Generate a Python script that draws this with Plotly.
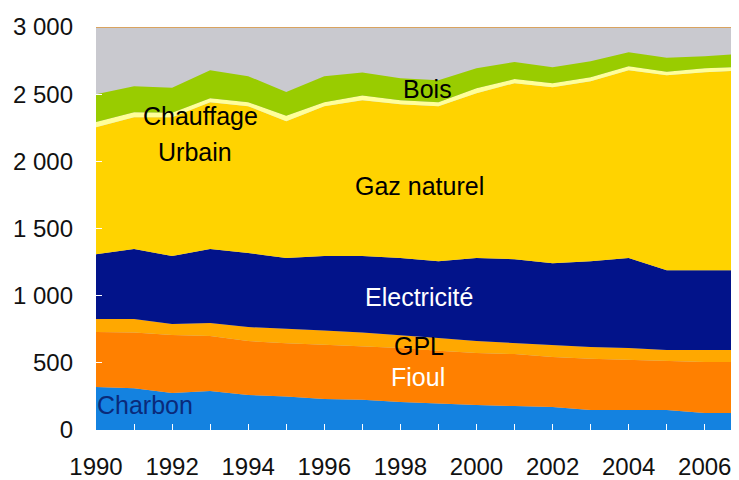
import plotly.graph_objects as go

years = list(range(1990, 2008))
charbon = [320, 310, 275, 290, 260, 250, 231, 225, 208, 195, 186, 178, 171, 149, 150, 149, 127, 127]
fioul = [409, 415, 432, 410, 402, 395, 404, 400, 402, 395, 387, 387, 372, 381, 371, 361, 379, 379]
gpl = [97, 101, 82, 96, 104, 110, 105, 100, 97, 95, 89, 83, 89, 87, 89, 85, 89, 89]
electricite = [483, 521, 506, 551, 551, 525, 555, 570, 573, 572, 618, 624, 610, 640, 670, 595, 595, 595]
gaz = [945, 982, 1034, 1093, 1093, 1019, 1115, 1160, 1145, 1153, 1227, 1310, 1310, 1340, 1398, 1451, 1473, 1488]
chauffage_urbain = [38, 37, 32, 30, 30, 40, 30, 35, 30, 30, 37, 30, 30, 29, 30, 25, 30, 25]
bois = [208, 193, 186, 208, 194, 178, 194, 172, 164, 164, 149, 127, 119, 119, 104, 105, 89, 97]

y_ticks = [0, 500, 1000, 1500, 2000, 2500, 3000]
y_ticktext = ["0", "500", "1 000", "1 500", "2 000", "2 500", "3 000"]

series = [
    ("Charbon", charbon, "#1482E0"),
    ("Fioul", fioul, "#FF8000"),
    ("GPL", gpl, "#FFA800"),
    ("Electricité", electricite, "#02138A"),
    ("Gaz naturel", gaz, "#FFD300"),
    ("Chauffage Urbain", chauffage_urbain, "#FFFF99"),
    ("Bois", bois, "#99CC00"),
]

fig = go.Figure()
for name, vals, col in series:
    fig.add_trace(go.Scatter(
        x=years, y=vals, name=name, stackgroup="one", mode="lines",
        line=dict(width=0, color=col), fillcolor=col, hoverinfo="x+y+name",
    ))

FONT = "Liberation Sans, Arial, sans-serif"
labels = [
    ("Charbon", 1991.3, 186, "#0A2A7A"),
    ("Fioul", 1998.45, 394, "white"),
    ("GPL", 1998.5, 625, "black"),
    ("Electricité", 1998.5, 990, "white"),
    ("Gaz naturel", 1998.5, 1815, "black"),
    ("Chauffage", 1992.75, 2336, "black"),
    ("Urbain", 1992.6, 2068, "black"),
    ("Bois", 1998.7, 2537, "black"),
]
for txt, x, y, c in labels:
    fig.add_annotation(x=x, y=y, text=txt, showarrow=False,
                       font=dict(family=FONT, size=25, color=c))

fig.add_shape(type="line", xref="paper", x0=0, x1=1, yref="y", y0=3000, y1=3000,
              line=dict(color="#D9A35F", width=2))

# the page body has an 8px margin, so the figure is sized to fit the window
fig.update_layout(
    width=731, height=472,
    margin=dict(l=88, r=0, t=19, b=50),
    paper_bgcolor="white",
    plot_bgcolor="#C9C9CF",
    showlegend=False,
    font=dict(family=FONT, size=24, color="#111111"),
    xaxis=dict(range=[1990, 2006.9], tickmode="linear", tick0=1990, dtick=2,
               ticks="inside", ticklen=6, tickcolor="white", tickwidth=1,
               minor=dict(ticks="inside", dtick=1, tick0=1990, ticklen=6, tickcolor="white"),
               showgrid=False, zeroline=False, showline=False,
               automargin=False, ticklabelstandoff=20),
    yaxis=dict(range=[0, 3000], tickvals=y_ticks, ticktext=y_ticktext,
               ticks="inside", ticklen=6, tickcolor="white",
               showgrid=False, zeroline=False, showline=False,
               automargin=False, ticklabelstandoff=22),
)

fig.write_html("out.html")
